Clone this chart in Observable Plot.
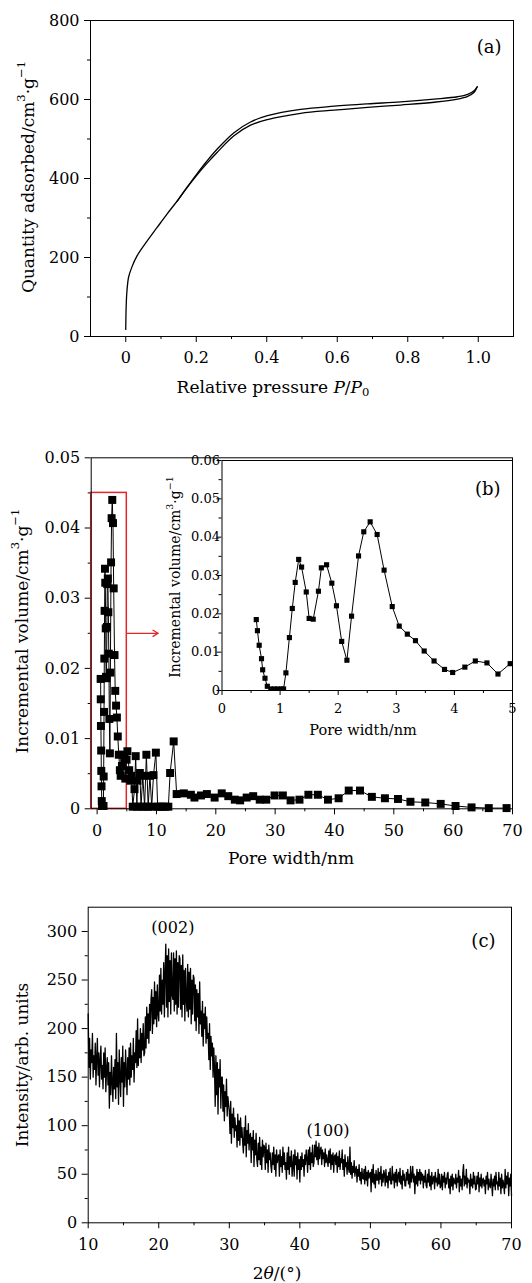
<!DOCTYPE html>
<html><head><meta charset="utf-8">
<script src="https://cdn.jsdelivr.net/npm/d3@7"></script>
<script src="https://cdn.jsdelivr.net/npm/@observablehq/plot@0.6"></script>
<style>
html,body{margin:0;padding:0;background:#fff;}
#chart{position:relative;width:532px;height:1283px;overflow:hidden;background:#fff;}
#chart svg{position:absolute;overflow:visible;}
</style></head><body><div id="chart"></div>
<script>
// ---------- Panel (a): N2 isotherm ----------
const adsP = [0, 0.001, 0.003, 0.008, 0.017, 0.032, 0.061, 0.089, 0.117, 0.146, 0.174, 0.203, 0.231, 0.259, 0.307, 0.354, 0.402, 0.496, 0.591, 0.686, 0.78, 0.875, 0.941, 0.97, 0.989, 0.997];
const adsQ = [18, 70, 110, 150, 175, 204, 242, 276, 310, 343, 377, 410, 439, 466, 508, 535, 549, 565, 573, 580, 586, 593, 601, 608, 619, 632];
const desP = [0.997, 0.989, 0.97, 0.941, 0.875, 0.78, 0.686, 0.591, 0.496, 0.402, 0.354, 0.307, 0.259, 0.231, 0.203, 0.174, 0.146];
const desQ = [632, 623, 613, 607, 601, 594, 589, 583, 575, 559, 543, 516, 474, 445, 413, 378, 343];
const aXMajor = [0, 0.2, 0.4, 0.6, 0.8, 1.0];
const aXMinor = [0.1, 0.3, 0.5, 0.7, 0.9];
const aYMajor = [0, 200, 400, 600, 800];
const aYMinor = [100, 300, 500, 700];

// ---------- Panel (b): pore size distribution ----------
const poreWidth = [0.59,0.61,0.64,0.68,0.70,0.74,0.78,0.84,0.90,0.96,1.02,1.06,1.10,1.16,1.21,1.26,1.32,1.37,1.45,1.50,1.57,1.66,1.71,1.80,1.89,1.97,2.06,2.15,2.23,2.35,2.44,2.55,2.67,2.79,2.93,3.05,3.19,3.33,3.48,3.65,3.83,3.97,4.18,4.36,4.56,4.75,4.96,
  5.1,5.4,5.6,5.8,6.0,6.3,6.5,6.7,6.8,7.2,7.4,7.7,8.0,8.3,8.6,8.9,9.2,9.5,9.9,10.2,10.6,11.0,11.5,12.0,12.3,12.9,13.4,14.6,15.8,16.4,17.5,18.5,19.8,21.0,22.1,23.2,24.1,25.2,26.3,27.4,28.5,29.9,31.3,32.6,34.1,35.6,37.2,38.9,40.7,42.4,44.3,46.3,48.5,50.7,52.8,55.3,57.9,60.4,63.1,66.0,69.0];
const incVolume = [0.0185,0.0156,0.0118,0.0083,0.0054,0.0032,0.0011,0.0004,0.0004,0.0004,0.0004,0.0004,0.0046,0.0138,0.0214,0.0282,0.0342,0.0322,0.0257,0.0188,0.0186,0.0259,0.0320,0.0328,0.0280,0.0221,0.0128,0.0079,0.0194,0.0351,0.0414,0.0440,0.0407,0.0314,0.0219,0.0168,0.0147,0.0130,0.0103,0.0077,0.0055,0.0047,0.0061,0.0077,0.0072,0.0043,0.0070,
  0.0082,0.0055,0.0040,0.0047,0.0003,0.0028,0.0075,0.0003,0.0040,0.0051,0.0003,0.0047,0.0003,0.0077,0.0003,0.0047,0.0003,0.0048,0.0080,0.0003,0.0003,0.0003,0.0003,0.0003,0.0051,0.0096,0.0021,0.0022,0.0020,0.0016,0.0019,0.0021,0.0016,0.0022,0.0018,0.0013,0.0012,0.0016,0.0018,0.0013,0.0013,0.0019,0.0019,0.0012,0.0013,0.0020,0.0020,0.0013,0.0015,0.0026,0.0026,0.0017,0.0015,0.0014,0.0010,0.0009,0.0007,0.0004,0.0002,0.0001,0.0001];
const bXMajor = [0, 10, 20, 30, 40, 50, 60, 70];
const bXMinor = [5, 15, 25, 35, 45, 55, 65];
const bYMajor = [0, 0.01, 0.02, 0.03, 0.04, 0.05];
const bYMinor = [0.005, 0.015, 0.025, 0.035, 0.045];
const insetXMajor = [0, 1, 2, 3, 4, 5];
const insetXMinor = [0.5, 1.5, 2.5, 3.5, 4.5];
const insetYMajor = [0, 0.01, 0.02, 0.03, 0.04, 0.05, 0.06];
const insetYMinor = [0.005, 0.015, 0.025, 0.035, 0.045, 0.055];
const zoomBox = [{x1: -1, x2: 5, y1: 0, y2: 0.045}];
const zoomArrow = [{x1: 5, x2: 10.3, y1: 0.025, y2: 0.025}];

// ---------- Panel (c): XRD (2θ from 10° in 0.1° steps) ----------
const xrdStart = 10, xrdStep = 0.1;
const xrdIntensity = [
 215,160,190,148,178,165,195,150,172,158,
 185,142,170,190,152,175,140,168,182,148,
 162,138,175,150,180,135,158,170,142,165,
 118,155,132,172,145,125,160,138,168,128,
 195,140,165,122,178,150,130,170,145,182,
 120,165,140,178,155,132,170,148,180,142,
 185,150,172,158,190,145,175,165,198,160,
 210,162,188,170,200,165,195,178,205,172,
 175,212,180,222,190,215,185,225,198,230,
 240,195,232,205,248,210,238,202,245,215,
 208,255,218,262,215,250,225,268,212,258,
 287,222,275,212,282,228,270,215,278,235,
 230,278,218,272,225,280,215,268,222,275,
 272,220,265,212,276,225,260,208,262,230,
 218,266,212,258,220,262,205,250,215,255,
 252,208,245,198,240,212,236,195,248,205,
 218,192,228,182,215,200,222,185,212,190,
 195,168,205,158,192,172,185,150,180,160,
 120,172,132,165,112,158,140,168,118,150,
 150,115,142,105,135,120,148,110,130,122,
 115,92,125,82,112,98,118,88,108,95,
 100,78,112,85,105,80,108,88,98,82,
 72,98,80,110,68,95,82,102,75,90,
 92,62,88,75,95,58,85,70,92,65,
 58,82,65,88,60,78,55,85,68,80,
 78,55,82,62,75,52,80,65,72,58,
 52,72,60,78,55,70,48,75,62,68,
 70,48,75,58,68,52,78,60,72,55,
 62,45,72,55,78,50,68,58,74,48,
 58,70,48,75,60,68,45,72,55,65,
 42,68,55,72,58,65,48,70,60,75,
 66,52,75,60,78,55,72,62,80,58,
 62,80,68,84,65,78,60,82,66,75,
 78,60,75,66,72,58,76,62,70,64,
 58,74,62,76,55,70,60,72,52,68,
 70,60,72,52,68,58,74,55,66,62,
 75,55,65,48,70,58,62,50,68,56,
 52,78,50,62,46,58,52,64,48,55,
 58,42,55,48,60,44,52,40,56,46,
 45,55,40,58,44,52,38,54,46,50,
 52,32,55,42,60,40,50,36,54,44,
 44,56,40,52,45,58,38,50,42,54,
 50,38,55,42,48,36,52,44,56,40,
 40,58,44,50,36,52,42,55,38,48,
 52,42,56,40,48,35,54,44,50,38,
 38,52,44,55,40,50,36,58,42,48,
 58,42,50,30,48,40,55,38,52,44,
 55,40,52,44,50,36,48,42,54,38,
 36,50,42,55,38,48,34,52,40,46,
 48,35,52,42,46,38,55,40,50,36,
 38,50,34,48,42,52,36,46,40,50,
 52,36,45,30,48,38,50,34,46,42,
 40,50,36,46,42,54,32,48,38,45,
 34,52,60,38,48,40,55,36,46,42,
 44,30,50,38,45,36,52,40,48,34,
 35,48,40,52,32,46,38,50,36,44,
 46,38,44,30,48,40,52,34,45,38,
 36,50,40,28,45,38,48,34,52,40,
 42,34,52,38,46,30,50,36,44,38,
 30,55,36,48,40,52,28,46,38,50,
 28];
const cXMajor = [10, 20, 30, 40, 50, 60, 70];
const cXMinor = [15, 25, 35, 45, 55, 65];
const cYMajor = [0, 50, 100, 150, 200, 250, 300];
const cYMinor = [25, 75, 125, 175, 225, 275];
const peakLabel = ["(002)", "(100)"];
const peakX = [22, 44];
const peakY = [304, 95];

// ---------- helpers ----------
const FONT = "DejaVu Serif";
const baseStyle = {fontFamily: FONT, fontSize: "16px", color: "#000", background: "transparent", overflow: "visible"};
const fmt1 = d => d === 0 ? "0" : d.toFixed(1);
const fmt2 = d => d === 0 ? "0" : d.toFixed(2);
const fmtInt = d => String(d);
const blank = () => "";
const chart = document.getElementById("chart");
function place(svg, left, top) {
  svg.style.left = left + "px"; svg.style.top = top + "px";
  chart.appendChild(svg); return svg;
}
function richText(svg, x, y, parts, size, rotate) {
  const t = d3.select(svg).append("text")
    .attr("font-family", FONT).attr("font-size", size).attr("fill", "#000")
    .attr("text-anchor", "middle").attr("dominant-baseline", "central")
    .attr("transform", `translate(${x},${y})` + (rotate ? " rotate(-90)" : ""));
  let cur = 0;
  for (const p of parts) {
    const target = p.sup ? -0.42 * size : p.sub ? 0.28 * size : 0;
    const s = t.append("tspan").text(p.t).attr("dy", target - cur);
    cur = target;
    if (p.i) s.attr("font-style", "italic");
    if (p.sup || p.sub) s.attr("font-size", size * 0.68);
  }
  return t;
}
const unitParts = (lead) => [{t: lead}, {t: "3", sup: true}, {t: "·g"}, {t: "−1", sup: true}];

// ---------- Panel (a) ----------
const isoRows = [
  ...adsP.map((p, i) => ({p, q: adsQ[i], branch: "ads"})),
  ...desP.map((p, i) => ({p, q: desQ[i], branch: "des"}))
];
const plotA = Plot.plot({
  width: 532, height: 400,
  marginLeft: 90, marginRight: 19, marginTop: 20, marginBottom: 64,
  x: {domain: [-0.1, 1.1]}, y: {domain: [0, 800]},
  style: baseStyle,
  marks: [
    Plot.axisX({ticks: aXMajor, tickSize: 6, tickPadding: 9, tickFormat: fmt1, label: null}),
    Plot.axisX({ticks: aXMinor, tickSize: 3, tickFormat: blank, label: null}),
    Plot.axisY({ticks: aYMajor, tickSize: 6, tickPadding: 5, label: null}),
    Plot.axisY({ticks: aYMinor, tickSize: 3, tickFormat: blank, label: null}),
    Plot.line(isoRows, {x: "p", y: "q", z: "branch", stroke: "#000", strokeWidth: 1.3, curve: "catmull-rom"}),
    Plot.frame({stroke: "#000", strokeWidth: 1}),
    Plot.text(["(a)"], {text: d => d, frameAnchor: "top-right", dx: -12, dy: 20, fontSize: 18})
  ]
});
place(plotA, 0, 0);
richText(plotA, 28, 177, unitParts("Quantity adsorbed/cm"), 17, true);
richText(plotA, 273, 387, [{t: "Relative pressure "}, {t: "P", i: true}, {t: "/"}, {t: "P", i: true}, {t: "0", sub: true}], 17, false);

// ---------- Panel (b) main ----------
const psd = poreWidth.map((w, i) => ({w, v: incVolume[i]}));
const plotB = Plot.plot({
  width: 532, height: 440,
  marginLeft: 90.7, marginRight: 20, marginTop: 37.3, marginBottom: 51.7,
  x: {domain: [-1, 70]}, y: {domain: [0, 0.05]},
  style: baseStyle,
  marks: [
    Plot.axisX({ticks: bXMajor, tickSize: 6, tickPadding: 10, tickFormat: fmtInt, label: null}),
    Plot.axisX({ticks: bXMinor, tickSize: 3, tickFormat: blank, label: null}),
    Plot.axisY({ticks: bYMajor, tickSize: 6, tickPadding: 5, tickFormat: fmt2, label: null}),
    Plot.axisY({ticks: bYMinor, tickSize: 3, tickFormat: blank, label: null}),
    Plot.rect(zoomBox, {x1: "x1", x2: "x2", y1: "y1", y2: "y2", fill: "none", stroke: "#e3262b", strokeWidth: 1.5}),
    Plot.arrow(zoomArrow, {x1: "x1", x2: "x2", y1: "y1", y2: "y2", stroke: "#e3262b", strokeWidth: 1.3, headLength: 7}),
    Plot.line(psd, {x: "w", y: "v", stroke: "#000", strokeWidth: 1}),
    Plot.dot(psd, {x: "w", y: "v", symbol: "square", r: 4.5, fill: "#000", stroke: "none"}),
    Plot.frame({stroke: "#000", strokeWidth: 1})
  ]
});
place(plotB, 0, 420);
richText(plotB, 22, 211, unitParts("Incremental volume/cm"), 17, true);
richText(plotB, 291, 438, [{t: "Pore width/nm"}], 17, false);

// ---------- Panel (b) inset ----------
const psdInset = psd.filter(d => d.w <= 5.05);
const plotInset = Plot.plot({
  width: 382, height: 310,
  marginLeft: 71.5, marginRight: 20, marginTop: 20, marginBottom: 60,
  x: {domain: [0, 5]}, y: {domain: [0, 0.06]},
  style: {...baseStyle, fontSize: "13px"},
  marks: [
    Plot.axisX({ticks: insetXMajor, tickSize: 5, tickPadding: 8, tickFormat: fmtInt, label: null}),
    Plot.axisX({ticks: insetXMinor, tickSize: 3, tickFormat: blank, label: null}),
    Plot.axisY({ticks: insetYMajor, tickSize: 5, tickPadding: -3, tickFormat: fmt2, label: null}),
    Plot.axisY({ticks: insetYMinor, tickSize: 3, tickFormat: blank, label: null}),
    Plot.line(psdInset, {x: "w", y: "v", stroke: "#000", strokeWidth: 1, clip: true}),
    Plot.dot(psdInset, {x: "w", y: "v", symbol: "square", r: 2.9, fill: "#000", stroke: "none", clip: true}),
    Plot.frame({stroke: "#000", strokeWidth: 1}),
    Plot.text(["(b)"], {text: d => d, frameAnchor: "top-right", dx: -12, dy: 22, fontSize: 18})
  ]
});
place(plotInset, 150, 440);
richText(plotInset, 25, 137, unitParts("Incremental volume/cm"), 14, true);
richText(plotInset, 213, 290, [{t: "Pore width/nm"}], 14.5, false);

// ---------- Panel (c) ----------
const xrd = xrdIntensity.map((v, i) => ({t: xrdStart + i * xrdStep, v}));
const peaks = peakLabel.map((s, i) => ({s, x: peakX[i], y: peakY[i]}));
const plotC = Plot.plot({
  width: 532, height: 403,
  marginLeft: 87.7, marginRight: 21, marginTop: 26.7, marginBottom: 60.7,
  x: {domain: [10, 70]}, y: {domain: [0, 325]},
  style: baseStyle,
  marks: [
    Plot.axisX({ticks: cXMajor, tickSize: 6, tickPadding: 10, tickFormat: fmtInt, label: null}),
    Plot.axisX({ticks: cXMinor, tickSize: 3, tickFormat: blank, label: null}),
    Plot.axisY({ticks: cYMajor, tickSize: 6, tickPadding: 5, tickFormat: fmtInt, label: null}),
    Plot.axisY({ticks: cYMinor, tickSize: 3, tickFormat: blank, label: null}),
    Plot.line(xrd, {x: "t", y: "v", stroke: "#000", strokeWidth: 1.3}),
    Plot.text(peaks, {x: "x", y: "y", text: "s", fontSize: 16}),
    Plot.frame({stroke: "#000", strokeWidth: 1}),
    Plot.text(["(c)"], {text: d => d, frameAnchor: "top-right", dx: -16, dy: 27, fontSize: 18})
  ]
});
place(plotC, 0, 880);
richText(plotC, 22, 185, [{t: "Intensity/arb. units"}], 17, true);
richText(plotC, 277, 393, [{t: "2"}, {t: "θ", i: true}, {t: "/(°)"}], 17, false);
</script></body></html>
